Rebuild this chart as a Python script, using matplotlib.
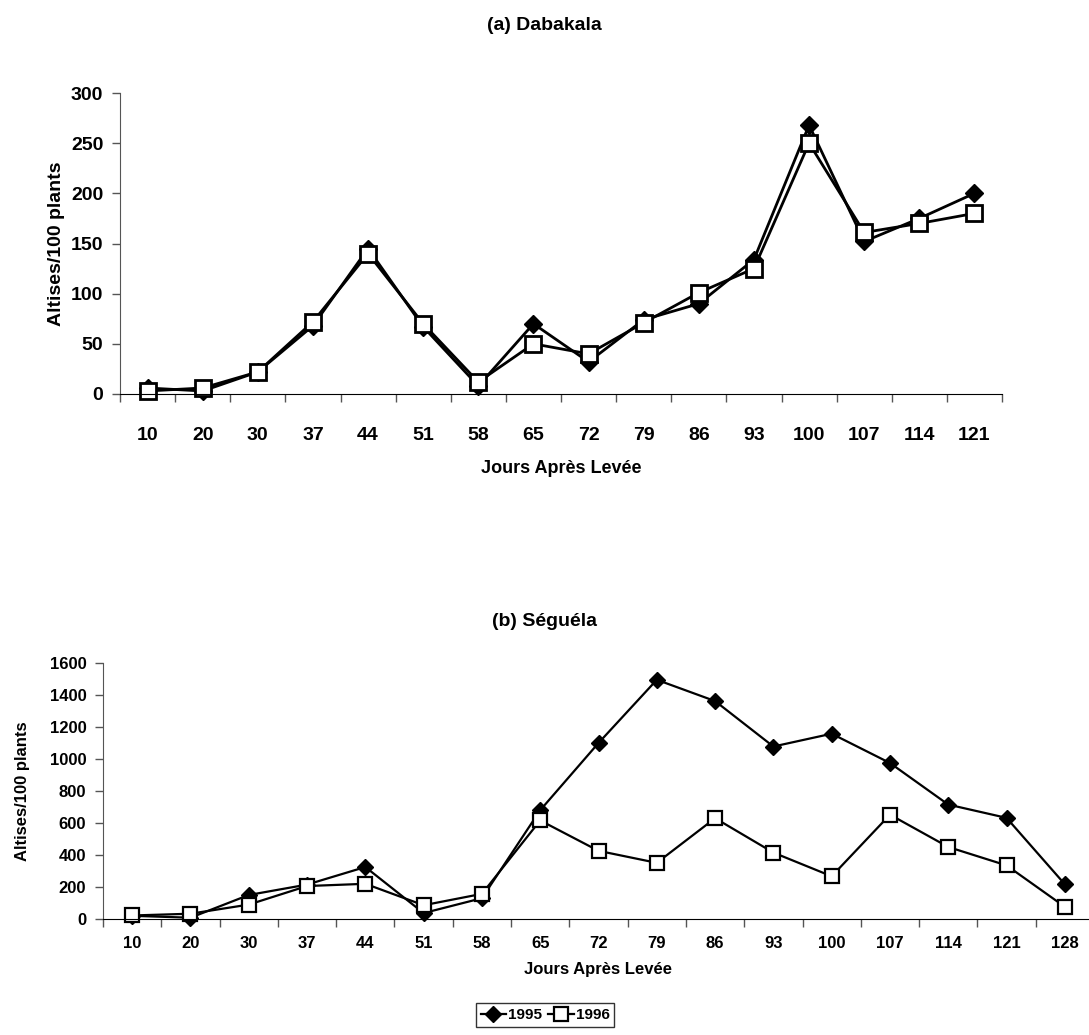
import matplotlib.pyplot as plt
import numpy as np

# Dabakala
days_a = ['10', '20', '30', '37', '44', '51', '58', '65', '72', '79', '86', '93', '100', '107', '114', '121']
dab_1995 = [6, 3, 22, 68, 145, 67, 8, 70, 32, 74, 90, 134, 268, 152, 175, 200]
dab_1996 = [3, 6, 22, 72, 140, 70, 12, 50, 40, 71, 101, 125, 250, 161, 170, 180]

# Seguela
days_b = ['10', '20', '30', '37', '44', '51', '58', '65', '72', '79', '86', '93', '100', '107', '114', '121', '128']
seg_1995 = [20, 8, 150, 215, 325, 37, 130, 680, 1100, 1495, 1362, 1078, 1158, 975, 715, 632, 217]
seg_1996 = [22, 33, 90, 206, 220, 86, 157, 616, 426, 351, 630, 415, 267, 652, 450, 335, 76]

plt.rcParams['font.family'] = ['Liberation Sans', 'DejaVu Sans']
plt.rcParams['font.weight'] = 'bold'

fig = plt.figure(figsize=(10.89, 10.35), dpi=100)


def style(ax, n, ymax, step, fs, pad):
    x = np.arange(n)
    ax.set_xlim(-0.5, n - 0.5)
    ax.set_ylim(0, ymax)
    ax.set_yticks(np.arange(0, ymax + 1, step))
    ax.set_xticks(np.arange(n + 1) - 0.5)
    ax.set_xticklabels([])
    ax.tick_params(axis='x', which='major', direction='out', length=6, width=1, color='#555555')
    ax.tick_params(axis='x', which='minor', length=0, pad=pad)
    ax.tick_params(axis='y', direction='out', length=6, width=1, color='#555555', pad=6, labelsize=fs)
    for s in ['top', 'right']:
        ax.spines[s].set_visible(False)
    ax.spines['left'].set_color('#555555')
    ax.spines['bottom'].set_color('black')
    return x


# (a) Dabakala
ax1 = fig.add_axes([120 / 1089, 1 - 394 / 1035, 882 / 1089, 301 / 1035])
x1 = style(ax1, len(days_a), 300, 50, 14, 24)
ax1.set_xticks(x1, days_a, minor=True, fontsize=14, fontweight='bold')
ax1.plot(x1, dab_1995, color='black', lw=2, marker='D', ms=9, mfc='black', mec='black', clip_on=False)
ax1.plot(x1, dab_1996, color='black', lw=2, marker='s', ms=11, mfc='white', mec='black', mew=2, clip_on=False)
ax1.set_ylabel('Altises/100 plants', fontsize=14, fontweight='bold', labelpad=4)
ax1.set_xlabel('Jours Après Levée', fontsize=13, fontweight='bold', labelpad=11)
fig.text(0.5, 1 - 25 / 1035, '(a) Dabakala', ha='center', va='center', fontsize=14, fontweight='bold')

# (b) Seguela
ax2 = fig.add_axes([103 / 1089, 1 - 919 / 1035, 991 / 1089, 256 / 1035])
x2 = style(ax2, len(days_b), 1600, 200, 12, 12)
ax2.set_xticks(x2, days_b, minor=True, fontsize=12, fontweight='bold')
l1, = ax2.plot(x2, seg_1995, color='black', lw=1.6, marker='D', ms=8, mfc='black', mec='black', clip_on=False)
l2, = ax2.plot(x2, seg_1996, color='black', lw=1.6, marker='s', ms=10, mfc='white', mec='black', mew=1.6, clip_on=False)
ax2.set_ylabel('Altises/100 plants', fontsize=12, fontweight='bold', labelpad=14)
ax2.set_xlabel('Jours Après Levée', fontsize=12, fontweight='bold', labelpad=8)
fig.text(0.5, 1 - 622 / 1035, '(b) Séguéla', ha='center', va='center', fontsize=14, fontweight='bold')

leg = fig.legend([l1, l2], ['1995', '1996'], loc='center', bbox_to_anchor=(545 / 1089, 1 - 1015 / 1035),
                 ncol=2, frameon=True, fancybox=False, edgecolor='black', handlelength=1.7,
                 handletextpad=0.1, columnspacing=0.4, borderpad=0.3, borderaxespad=0,
                 prop={'weight': 'bold', 'size': 11})
leg.get_frame().set_linewidth(1)

fig.savefig('out.png', dpi=100)
